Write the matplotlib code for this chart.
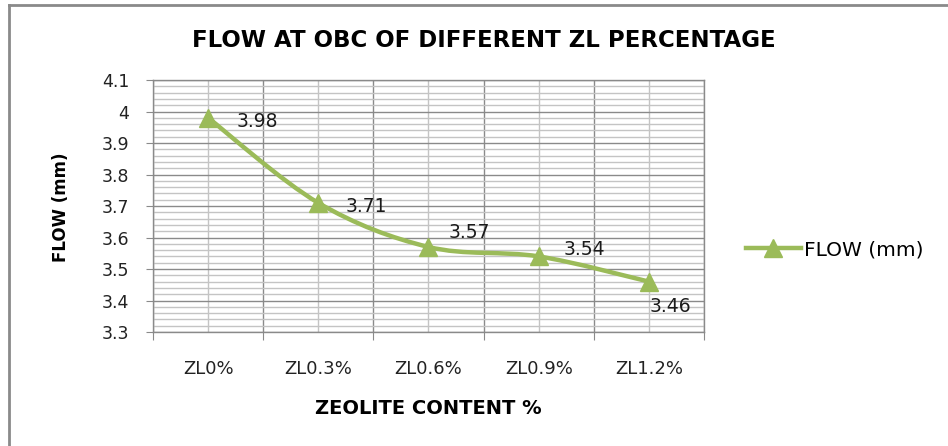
import numpy as np
import matplotlib
matplotlib.use("Agg")
import matplotlib.pyplot as plt
from matplotlib.path import Path
from matplotlib.patches import PathPatch
from matplotlib.lines import Line2D

categories = ["ZL0%", "ZL0.3%", "ZL0.6%", "ZL0.9%", "ZL1.2%"]
flow = [3.98, 3.71, 3.57, 3.54, 3.46]
y_ticks = [3.3, 3.4, 3.5, 3.6, 3.7, 3.8, 3.9, 4.0, 4.1]
y_tick_labels = ["3.3", "3.4", "3.5", "3.6", "3.7", "3.8", "3.9", "4", "4.1"]
# label offsets (pixels) as placed in the original chart
label_offsets = [(49, -4), (48, -4), (41, 14), (46, 7), (21, -25)]

green = "#9BBB59"
major_grid = "#8a8a8a"
minor_grid = "#c4c4c4"
font = "DejaVu Sans"


def smooth_path(xs, ys):
        # excel style smoothing: catmull-rom converted to bezier segments
        pts = np.column_stack([xs, ys]).astype(float)
        n = len(pts)
        verts = [pts[0]]
        codes = [Path.MOVETO]
        for i in range(n - 1):
                p0 = pts[i - 1] if i > 0 else pts[i]
                p1 = pts[i]
                p2 = pts[i + 1]
                p3 = pts[i + 2] if i + 2 < n else pts[i + 1]
                c1 = p1 + (p2 - p0) / 6
                c2 = p2 - (p3 - p1) / 6
                verts += [c1, c2, p2]
                codes += [Path.CURVE4] * 3
        return Path(verts, codes)


plt.rcParams['font.family'] = font
fig = plt.figure(figsize=(9.48, 4.46), dpi=100)
ax = fig.add_axes([0.1614, 0.2556, 0.5812, 0.565])

x = np.arange(len(categories))
ax.set_xlim(-0.5, len(categories) - 0.5)
ax.set_ylim(3.3, 4.1)

ax.add_patch(PathPatch(smooth_path(x, flow), facecolor="none", edgecolor=green,
                       lw=3.2, zorder=3, capstyle="round"))
ax.plot(x, flow, linestyle="none", marker="^", markersize=13, color=green, zorder=4)
line_handle = Line2D([], [], color=green, lw=3.2, marker="^", markersize=13)

for xi, yi, off in zip(x, flow, label_offsets):
        ax.annotate(f"{yi:.2f}", (xi, yi), xytext=off, textcoords="offset pixels",
                    ha="center", va="center", fontsize=13.5, color="#1a1a1a")

# gridlines
ax.set_xticks(np.arange(-0.5, len(categories)), labels=[""] * (len(categories) + 1))
ax.set_xticks(x, labels=categories, minor=True)
ax.set_yticks(y_ticks, labels=y_tick_labels)
ax.set_yticks(np.arange(3.3, 4.1001, 0.02), minor=True)
ax.grid(which="major", color=major_grid, lw=1.0)
ax.grid(which="minor", color=minor_grid, lw=1.0)
ax.set_axisbelow(True)
ax.tick_params(axis="x", which="major", length=6, color=major_grid, direction="out")
ax.tick_params(axis="x", which="minor", length=0, pad=20, labelsize=13, labelcolor="#222222")
ax.tick_params(axis="y", which="major", length=5, color=major_grid, labelsize=12.5,
               pad=12, labelcolor="#222222")
ax.tick_params(axis="y", which="minor", length=0)
for sp in ax.spines.values():
        sp.set_color(major_grid)
        sp.set_linewidth(1.0)

ax.set_xlabel("ZEOLITE CONTENT %", fontsize=14, fontweight="bold")
ax.xaxis.set_label_coords(0.5, -0.265)
ax.set_ylabel("FLOW (mm)", fontsize=12, fontweight="bold")
ax.yaxis.set_label_coords(-0.15, 0.496)
fig.text(0.5105, 0.91, "FLOW AT OBC OF DIFFERENT ZL PERCENTAGE", ha="center", va="center",
         fontsize=16.5, fontweight="bold")

leg = fig.legend([line_handle], ["FLOW (mm)"], loc="center left", bbox_to_anchor=(0.768, 0.44),
                 frameon=False, handlelength=2.7, handletextpad=0.15, prop={"size": 14.5})

# chart border (left and top edges visible)
fig.add_artist(Line2D([9 / 948, 9 / 948], [0, 1 - 5 / 446], transform=fig.transFigure, color="#8a8a8a", lw=2))
fig.add_artist(Line2D([9 / 948, 1], [1 - 5 / 446, 1 - 5 / 446], transform=fig.transFigure, color="#8a8a8a", lw=2))

fig.savefig("out.png", dpi=100)
